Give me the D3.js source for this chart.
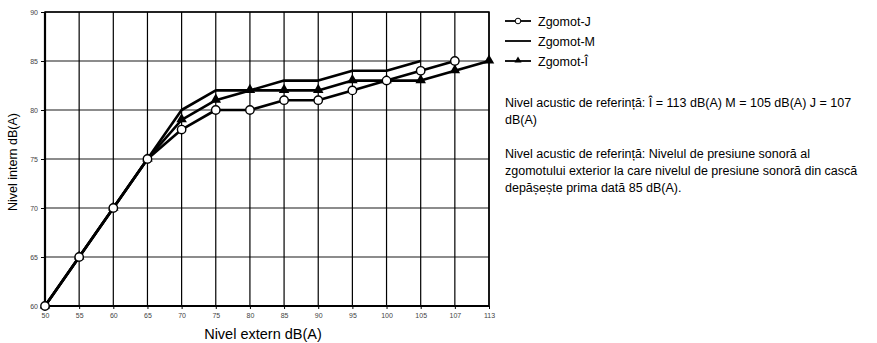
<!DOCTYPE html>
<html>
<head>
<meta charset="utf-8">
<script src="https://cdn.jsdelivr.net/npm/d3@7"></script>
<style>
  html, body { margin: 0; padding: 0; background: #fff; }
  svg { display: block; font-family: "Liberation Sans", Arial, sans-serif; }
</style>
</head>
<body>
<svg id="chart" width="877" height="343"></svg>
<script>
// External level categories (dB(A))
const categories = ["50", "55", "60", "65", "70", "75", "80", "85", "90", "95", "100", "105", "107", "113"];
const yTicks = [60, 65, 70, 75, 80, 85, 90];

// Internal level per series (starting from the first category)
const seriesJ = [60, 65, 70, 75, 78, 80, 80, 81, 81, 82, 83, 84, 85];
const seriesM = [60, 65, 70, 75, 80, 82, 82, 83, 83, 84, 84, 85];
const seriesI = [60, 65, 70, 75, 79, 81, 82, 82, 82, 83, 83, 83, 84, 85];

const legendNames = ["Zgomot-J", "Zgomot-M", "Zgomot-Î"];
const noteLines1 = ["Nivel acustic de referință: Î = 113 dB(A) M = 105 dB(A) J = 107", "dB(A)"];
const noteLines2 = [
  "Nivel acustic de referință: Nivelul de presiune sonoră al",
  "zgomotului exterior la care nivelul de presiune sonoră din cască",
  "depășește prima dată 85 dB(A)."
];

const svg = d3.select("#chart");
const plot = { left: 45, top: 12, right: 489, bottom: 306 };

const x = d3.scalePoint().domain(categories).range([plot.left, plot.right]);
const y = d3.scaleLinear().domain([60, 90]).range([plot.bottom, plot.top]);

// Grid: horizontal lines grey, vertical lines black
svg.append("g").selectAll("line").data(yTicks).join("line")
  .attr("x1", plot.left).attr("x2", plot.right)
  .attr("y1", d => y(d)).attr("y2", d => y(d))
  .attr("stroke", "#666").attr("stroke-width", 1.6);
svg.append("g").selectAll("line").data(categories).join("line")
  .attr("x1", d => x(d)).attr("x2", d => x(d))
  .attr("y1", plot.top).attr("y2", plot.bottom)
  .attr("stroke", "#000").attr("stroke-width", 1.2);

// Frame
svg.append("rect")
  .attr("x", plot.left).attr("y", plot.top)
  .attr("width", plot.right - plot.left).attr("height", plot.bottom - plot.top)
  .attr("fill", "none").attr("stroke", "#000").attr("stroke-width", 1.5);
svg.append("line")
  .attr("x1", plot.left).attr("x2", plot.right)
  .attr("y1", plot.bottom).attr("y2", plot.bottom)
  .attr("stroke", "#000").attr("stroke-width", 2.2);
svg.append("line")
  .attr("x1", plot.left).attr("x2", plot.left)
  .attr("y1", plot.top).attr("y2", plot.bottom)
  .attr("stroke", "#000").attr("stroke-width", 2.2);

// Axes
const yAxis = d3.axisLeft(y).tickValues(yTicks).tickSize(4).tickPadding(3);
const yG = svg.append("g").attr("transform", `translate(${plot.left},0)`).call(yAxis);
const xAxis = d3.axisBottom(x).tickSize(3).tickPadding(4);
const xG = svg.append("g").attr("transform", `translate(0,${plot.bottom})`).call(xAxis);
[yG, xG].forEach(g => {
  g.select(".domain").remove();
  g.selectAll(".tick line").attr("stroke", "#000").attr("stroke-width", 1);
  g.selectAll(".tick text").attr("font-size", 7).attr("fill", "#444")
    .attr("font-family", "'Liberation Sans', Arial, sans-serif");
});

// Axis titles
svg.append("text").attr("x", 263).attr("y", 339).attr("text-anchor", "middle")
  .attr("font-size", 14.5).attr("fill", "#000").text("Nivel extern dB(A)");
svg.append("text").attr("transform", "translate(17,162) rotate(-90)")
  .attr("text-anchor", "middle").attr("font-size", 12.5).attr("fill", "#000")
  .text("Nivel intern dB(A)");

// Series lines
const line = d3.line().x((d, i) => x(categories[i])).y(d => y(d));
[seriesM, seriesI, seriesJ].forEach(s => {
  svg.append("path").datum(s).attr("d", line)
    .attr("fill", "none").attr("stroke", "#000").attr("stroke-width", 2.6)
    .attr("stroke-linejoin", "round");
});

// Markers
const tri = d3.symbol().type(d3.symbolTriangle).size(48);
svg.append("g").selectAll("path").data(seriesI).join("path")
  .attr("d", tri)
  .attr("transform", (d, i) => `translate(${x(categories[i])},${y(d) - 0.5})`)
  .attr("fill", "#000");
svg.append("g").selectAll("circle").data(seriesJ).join("circle")
  .attr("cx", (d, i) => x(categories[i])).attr("cy", d => y(d))
  .attr("r", 4.2).attr("fill", "#fff").attr("stroke", "#000").attr("stroke-width", 1.4);

// Legend
const legend = svg.append("g");
const legY = [21, 41, 61];
legendNames.forEach((name, i) => {
  const ly = legY[i];
  legend.append("line").attr("x1", 505).attr("x2", 531).attr("y1", ly).attr("y2", ly)
    .attr("stroke", "#000").attr("stroke-width", 1.8);
  if (i === 0) {
    legend.append("circle").attr("cx", 518).attr("cy", ly).attr("r", 2.8)
      .attr("fill", "#fff").attr("stroke", "#000").attr("stroke-width", 1);
  }
  if (i === 2) {
    legend.append("path").attr("d", d3.symbol().type(d3.symbolTriangle).size(22))
      .attr("transform", `translate(518,${ly - 0.5})`).attr("fill", "#000");
  }
  legend.append("text").attr("x", 538).attr("y", ly + 4.5)
    .attr("font-size", 12.5).attr("fill", "#000").text(name);
});

// Notes
noteLines1.forEach((t, i) => {
  svg.append("text").attr("x", 505).attr("y", 107 + i * 17)
    .attr("font-size", 12.5).attr("fill", "#000").text(t);
});
noteLines2.forEach((t, i) => {
  svg.append("text").attr("x", 505).attr("y", 158 + i * 17)
    .attr("font-size", 12.5).attr("fill", "#000").text(t);
});
</script>
</body>
</html>
